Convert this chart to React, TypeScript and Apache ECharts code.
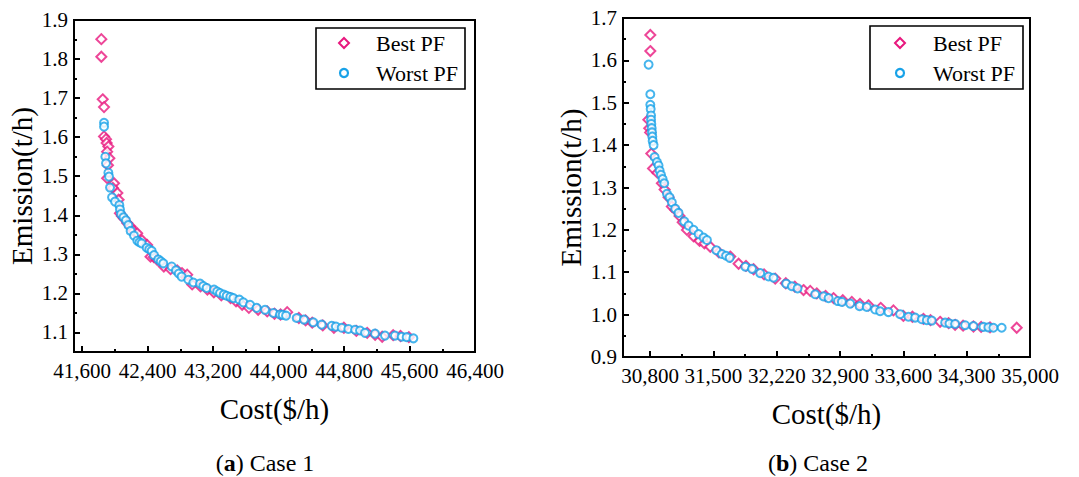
import React, { useEffect, useRef } from 'react';
import * as echarts from 'echarts';

const FONT = '"Liberation Serif", "Times New Roman", serif';
const PINK = '#E8187E';
const BLUE = '#18A2E8';

// ---------- Case 1 axes ----------
const case1XTicks = [41600, 42400, 43200, 44000, 44800, 45600, 46400];
const case1XLabels = ['41,600', '42,400', '43,200', '44,000', '44,800', '45,600', '46,400'];
const case1XMinor = [42000, 42800, 43600, 44400, 45200, 46000];
const case1YTicks = [1.1, 1.2, 1.3, 1.4, 1.5, 1.6, 1.7, 1.8, 1.9];
const case1YMinor = [1.15, 1.25, 1.35, 1.45, 1.55, 1.65, 1.75, 1.85];

// ---------- Case 2 axes ----------
const case2XTicks = [30800, 31500, 32200, 32900, 33600, 34300, 35000];
const case2XLabels = ['30,800', '31,500', '32,220', '32,900', '33,600', '34,300', '35,000'];
const case2XMinor = [31150, 31850, 32550, 33250, 33950, 34650];
const case2YTicks = [0.9, 1.0, 1.1, 1.2, 1.3, 1.4, 1.5, 1.6, 1.7];
const case2YMinor = [0.95, 1.05, 1.15, 1.25, 1.35, 1.45, 1.55, 1.65];

const legendNames = ['Best PF', 'Worst PF'];

// ---------- Case 1 data ----------
const case1BestCost = [41834, 41834, 41851, 41867, 41867, 41891, 41899, 41920, 41905, 41932, 41915, 41905, 41989, 41975, 42030, 42045, 42061, 42085, 42110, 42150, 42191, 42230, 42272, 42330, 42394, 42435, 42475, 42517, 42598, 42680, 42761, 42820, 42883, 42944, 43046, 43130, 43209, 43300, 43413, 43480, 43555, 43637, 43750, 43861, 43950, 44024, 44105, 44248, 44330, 44411, 44540, 44676, 44798, 44950, 45083, 45180, 45266, 45400, 45490, 45592];
const case1BestEmission = [1.851, 1.806, 1.697, 1.677, 1.602, 1.595, 1.585, 1.576, 1.563, 1.546, 1.528, 1.495, 1.482, 1.47, 1.457, 1.44, 1.405, 1.398, 1.392, 1.38, 1.371, 1.36, 1.354, 1.336, 1.324, 1.294, 1.293, 1.286, 1.269, 1.262, 1.259, 1.252, 1.248, 1.223, 1.218, 1.21, 1.203, 1.195, 1.188, 1.18, 1.171, 1.163, 1.158, 1.154, 1.148, 1.146, 1.152, 1.137, 1.131, 1.125, 1.118, 1.112, 1.112, 1.104, 1.099, 1.094, 1.089, 1.093, 1.091, 1.088];
const case1WorstCost = [41867, 41867, 41883, 41891, 41920, 41928, 41940, 41965, 42001, 42054, 42062, 42074, 42105, 42135, 42164, 42192, 42233, 42274, 42300, 42327, 42388, 42420, 42449, 42478, 42530, 42560, 42591, 42693, 42746, 42780, 42815, 42897, 42958, 43040, 43080, 43121, 43211, 43250, 43284, 43330, 43366, 43410, 43447, 43520, 43569, 43651, 43732, 43834, 43936, 44017, 44050, 44091, 44221, 44310, 44424, 44526, 44649, 44700, 44771, 44852, 44934, 44995, 45056, 45178, 45300, 45422, 45504, 45565, 45647];
const case1WorstEmission = [1.637, 1.627, 1.55, 1.533, 1.509, 1.499, 1.471, 1.446, 1.435, 1.426, 1.415, 1.403, 1.395, 1.387, 1.375, 1.36, 1.348, 1.335, 1.331, 1.328, 1.317, 1.313, 1.309, 1.298, 1.287, 1.282, 1.277, 1.269, 1.259, 1.251, 1.243, 1.235, 1.228, 1.225, 1.219, 1.214, 1.21, 1.205, 1.201, 1.197, 1.194, 1.191, 1.188, 1.184, 1.177, 1.171, 1.163, 1.158, 1.15, 1.146, 1.145, 1.143, 1.137, 1.133, 1.126, 1.12, 1.117, 1.115, 1.112, 1.109, 1.107, 1.105, 1.099, 1.097, 1.092, 1.092, 1.089, 1.088, 1.085];

// ---------- Case 2 data ----------
const case2BestCost = [30802, 30802, 30780, 30790, 30800, 30813, 30832, 30880, 30930, 30960, 31004, 31040, 31080, 31125, 31160, 31207, 31280, 31347, 31400, 31465, 31560, 31686, 31778, 31860, 31944, 32060, 32183, 32300, 32400, 32496, 32570, 32643, 32740, 32828, 32930, 33030, 33120, 33214, 33350, 33490, 33600, 33700, 33822, 33900, 34006, 34100, 34172, 34260, 34375, 34460, 34558, 34853];
const case2BestEmission = [1.66, 1.622, 1.46, 1.44, 1.43, 1.38, 1.345, 1.335, 1.31, 1.295, 1.277, 1.255, 1.247, 1.233, 1.218, 1.2, 1.185, 1.174, 1.168, 1.16, 1.147, 1.137, 1.12, 1.115, 1.107, 1.095, 1.085, 1.074, 1.066, 1.058, 1.056, 1.05, 1.044, 1.039, 1.034, 1.03, 1.025, 1.022, 1.016, 1.01, 0.997, 0.995, 0.99, 0.987, 0.983, 0.98, 0.976, 0.974, 0.972, 0.971, 0.97, 0.969];
const case2WorstCost = [30783, 30802, 30802, 30806, 30810, 30810, 30813, 30817, 30821, 30824, 30828, 30838, 30850, 30875, 30893, 30905, 30920, 30938, 30956, 30986, 31015, 31040, 31077, 31114, 31177, 31225, 31280, 31336, 31391, 31428, 31532, 31594, 31640, 31679, 31852, 31926, 32017, 32109, 32164, 32304, 32367, 32430, 32625, 32717, 32773, 32876, 32920, 33012, 33116, 33196, 33288, 33343, 33435, 33564, 33656, 33730, 33804, 33859, 33914, 34062, 34110, 34172, 34283, 34375, 34485, 34540, 34595, 34687];
const case2WorstEmission = [1.59, 1.52, 1.495, 1.485, 1.47, 1.46, 1.45, 1.44, 1.43, 1.42, 1.41, 1.4, 1.372, 1.36, 1.352, 1.34, 1.33, 1.32, 1.31, 1.285, 1.277, 1.265, 1.25, 1.24, 1.22, 1.21, 1.2, 1.19, 1.182, 1.176, 1.152, 1.143, 1.139, 1.134, 1.113, 1.108, 1.098, 1.09, 1.087, 1.073, 1.067, 1.062, 1.048, 1.043, 1.039, 1.032, 1.03, 1.026, 1.02, 1.018, 1.012, 1.008, 1.006, 1.001, 0.995, 0.993, 0.989, 0.987, 0.986, 0.981, 0.979, 0.978, 0.975, 0.973, 0.971, 0.97, 0.969, 0.969];

const zip = (xs: number[], ys: number[]) => xs.map((x, i) => [x, ys[i]]);

const labelStyle = { fontFamily: FONT, fontSize: 21, color: '#000' };
const nameStyle = { fontFamily: FONT, fontSize: 29, color: '#000' };

function mainX(grid: number, min: number, max: number, ticks: number[], labels: string[]) {
  return {
    type: 'value', gridIndex: grid, min, max, position: 'bottom',
    name: 'Cost($/h)', nameLocation: 'middle', nameGap: 42, nameTextStyle: nameStyle,
    axisLine: { show: true, onZero: false, lineStyle: { color: '#000', width: 2 } },
    axisTick: { show: true, inside: true, length: 6, customValues: ticks, lineStyle: { color: '#000', width: 2 } },
    axisLabel: {
      show: true, customValues: ticks, margin: 8, ...labelStyle,
      formatter: (v: number) => { const i = ticks.findIndex((t) => Math.abs(t - v) < 1e-6); return i >= 0 ? labels[i] : ''; },
    },
    splitLine: { show: false },
  };
}
function minorX(grid: number, min: number, max: number, ticks: number[]) {
  return {
    type: 'value', gridIndex: grid, min, max, position: 'bottom', offset: 0,
    axisLine: { show: false, onZero: false },
    axisTick: { show: true, inside: true, length: 3, customValues: ticks, lineStyle: { color: '#000', width: 2 } },
    axisLabel: { show: false, customValues: ticks },
    splitLine: { show: false },
  };
}
function mainY(grid: number, min: number, max: number, ticks: number[]) {
  return {
    type: 'value', gridIndex: grid, min, max, position: 'left',
    name: 'Emission(t/h)', nameLocation: 'middle', nameGap: 38, nameTextStyle: nameStyle,
    axisLine: { show: true, onZero: false, lineStyle: { color: '#000', width: 2 } },
    axisTick: { show: true, inside: true, length: 6, customValues: ticks, lineStyle: { color: '#000', width: 2 } },
    axisLabel: { show: true, customValues: ticks, margin: 6, ...labelStyle, formatter: (v: number) => v.toFixed(1) },
    splitLine: { show: false },
  };
}
function minorY(grid: number, min: number, max: number, ticks: number[]) {
  return {
    type: 'value', gridIndex: grid, min, max, position: 'left', offset: 0,
    axisLine: { show: false, onZero: false },
    axisTick: { show: true, inside: true, length: 3, customValues: ticks, lineStyle: { color: '#000', width: 2 } },
    axisLabel: { show: false, customValues: ticks },
    splitLine: { show: false },
  };
}

function bestSeries(xi: number, yi: number, data: number[][]) {
  return {
    name: legendNames[0], type: 'scatter', xAxisIndex: xi, yAxisIndex: yi, data,
    symbol: 'emptyDiamond', symbolSize: 10,
    itemStyle: { color: PINK, borderWidth: 2 },
  };
}
function worstSeries(xi: number, yi: number, data: number[][]) {
  return {
    name: legendNames[1], type: 'scatter', xAxisIndex: xi, yAxisIndex: yi, data,
    symbol: 'emptyCircle', symbolSize: 8,
    itemStyle: { color: BLUE, borderWidth: 2.2 },
  };
}

function legendBox(x: number, y: number, w: number, h: number, mx: number, tx: number) {
  return {
    type: 'group',
    children: [
      { type: 'rect', shape: { x, y, width: w, height: h }, style: { fill: '#fff', stroke: '#000', lineWidth: 1.6 } },
      {
        type: 'polygon', shape: { points: [[mx, 38], [mx + 5, 43], [mx, 48], [mx - 5, 43]] },
        style: { fill: '#fff', stroke: PINK, lineWidth: 2 },
      },
      { type: 'circle', shape: { cx: mx, cy: 73, r: 4 }, style: { fill: '#fff', stroke: BLUE, lineWidth: 2.2 } },
      { type: 'text', x: tx, y: 43, style: { text: legendNames[0], font: `22px ${FONT}`, fill: '#000', verticalAlign: 'middle' } },
      { type: 'text', x: tx, y: 73, style: { text: legendNames[1], font: `22px ${FONT}`, fill: '#000', verticalAlign: 'middle' } },
    ],
  };
}

function caption(x: number, letter: string, rest: string) {
  return {
    type: 'text', x, y: 463,
    style: {
      text: `({b|${letter}}) ${rest}`, fill: '#000', font: `24px ${FONT}`,
      align: 'center', verticalAlign: 'middle',
      rich: { b: { fontWeight: 'bold', fontSize: 24, fontFamily: FONT, fill: '#000' } },
    },
  };
}

export default function App() {
  const ref = useRef<HTMLDivElement>(null);
  useEffect(() => {
    if (!ref.current) return;
    const chart = echarts.init(ref.current, undefined, { renderer: 'svg' });
    chart.setOption({
      animation: false,
      backgroundColor: '#fff',
      grid: [
        { left: 74, top: 20, width: 401, height: 332, show: true, borderColor: '#000', borderWidth: 2, backgroundColor: 'transparent' },
        { left: 623, top: 18, width: 407, height: 339, show: true, borderColor: '#000', borderWidth: 2, backgroundColor: 'transparent' },
      ],
      xAxis: [
        mainX(0, 41500, 46400, case1XTicks, case1XLabels),
        minorX(0, 41500, 46400, case1XMinor),
        mainX(1, 30500, 35000, case2XTicks, case2XLabels),
        minorX(1, 30500, 35000, case2XMinor),
      ],
      yAxis: [
        mainY(0, 1.05, 1.9, case1YTicks),
        minorY(0, 1.05, 1.9, case1YMinor),
        mainY(1, 0.9, 1.7, case2YTicks),
        minorY(1, 0.9, 1.7, case2YMinor),
      ],
      series: [
        bestSeries(0, 0, zip(case1BestCost, case1BestEmission)),
        worstSeries(0, 0, zip(case1WorstCost, case1WorstEmission)),
        bestSeries(2, 2, zip(case2BestCost, case2BestEmission)),
        worstSeries(2, 2, zip(case2WorstCost, case2WorstEmission)),
      ],
      graphic: [
        legendBox(316, 28, 149, 61, 344, 376),
        legendBox(870, 26, 153, 63, 900, 933),
        caption(265, 'a', 'Case 1'),
        caption(818, 'b', 'Case 2'),
      ],
    });
    return () => chart.dispose();
  }, []);
  return <div ref={ref} style={{ position: 'fixed', left: 0, top: 0, width: 1079, height: 477 }} />;
}
